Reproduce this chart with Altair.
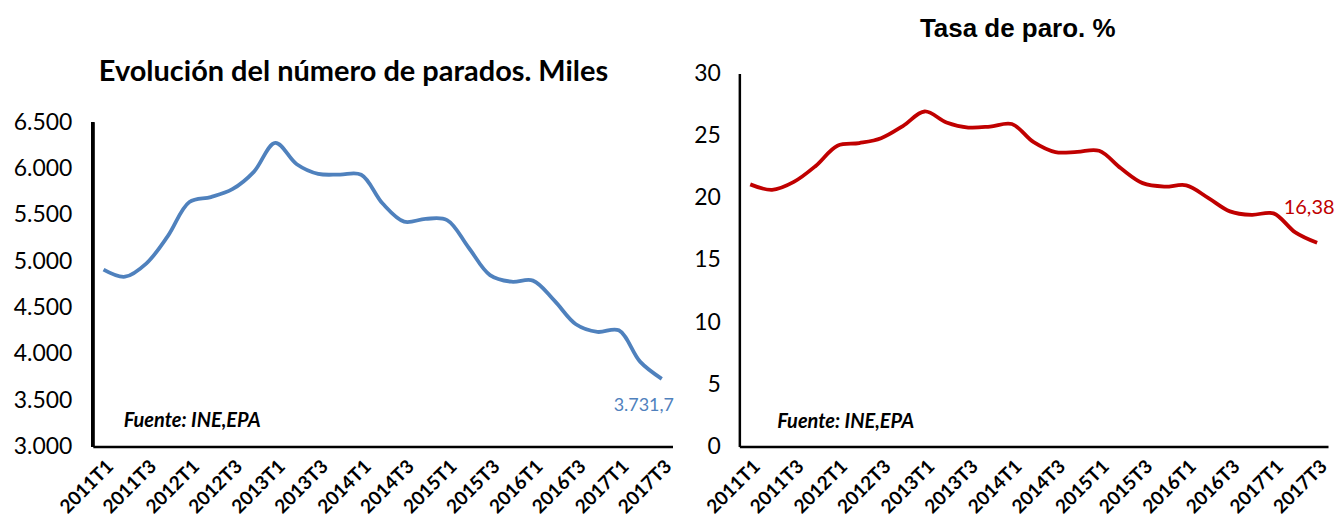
import altair as alt
import pandas as pd

trimestres = [
    "2011T1", "2011T2", "2011T3", "2011T4",
    "2012T1", "2012T2", "2012T3", "2012T4",
    "2013T1", "2013T2", "2013T3", "2013T4",
    "2014T1", "2014T2", "2014T3", "2014T4",
    "2015T1", "2015T2", "2015T3", "2015T4",
    "2016T1", "2016T2", "2016T3", "2016T4",
    "2017T1", "2017T2", "2017T3",
]
parados = [
    4910.2, 4833.7, 4978.3, 5273.6,
    5639.5, 5693.1, 5778.1, 5965.4,
    6278.2, 6047.3, 5943.4, 5935.6,
    5933.3, 5622.9, 5427.7, 5457.7,
    5444.6, 5149.0, 4850.8, 4779.5,
    4791.4, 4574.7, 4320.8, 4237.8,
    4255.0, 3914.3, 3731.7,
]
tasa = [
    21.08, 20.64, 21.28, 22.56,
    24.19, 24.40, 24.79, 25.77,
    26.94, 26.06, 25.65, 25.73,
    25.93, 24.47, 23.67, 23.70,
    23.78, 22.37, 21.18, 20.90,
    21.00, 20.00, 18.91, 18.63,
    18.75, 17.22, 16.38,
]
ticks_x = trimestres[::2]
ticks_parados = [3000, 3500, 4000, 4500, 5000, 5500, 6000, 6500]
ticks_tasa = [0, 5, 10, 15, 20, 25, 30]

titulo_izq = "Evolución del número de parados.  Miles"
titulo_der = "Tasa de paro. %"
fuente = "Fuente: INE,EPA"

BLUE = "#4F81BD"
RED = "#C00000"
FONT = "Lato"
H = 374
WL = 581
WR = 590

df_l = pd.DataFrame({"trimestre": trimestres, "parados": parados})
df_r = pd.DataFrame({"trimestre": trimestres, "tasa": tasa})

def x_enc():
    return alt.X(
        "trimestre:O", sort=trimestres, title=None,
        scale=alt.Scale(type="point", padding=0.5),
        axis=alt.Axis(values=ticks_x, labelAngle=-45, labelFont=FONT,
                      labelFontSize=19, labelFontWeight="bold", labelColor="black",
                      ticks=False, domainColor="black", domainWidth=2.5,
                      labelPadding=10, grid=False),
    )

# ---------- left panel ----------
base_l = alt.Chart(df_l)
line_l = base_l.mark_line(interpolate="catmull-rom", color=BLUE, strokeWidth=3.8).encode(
    x=x_enc(),
    y=alt.Y("parados:Q", title=None,
            scale=alt.Scale(domain=[3000, 7027.6], nice=False, zero=False),
            axis=alt.Axis(values=ticks_parados, domain=False, ticks=False, grid=False,
                          labelFont=FONT, labelFontSize=23, labelColor="black",
                          labelPadding=21,
                          labelExpr="replace(format(datum.value, ',.0f'), ',', '.')")),
)
axis_l = alt.Chart(df_l).mark_rule(color="black", strokeWidth=2.5).encode(
    x=alt.value(0), y=alt.datum(3000), y2=alt.datum(6500)
)
last_l = base_l.transform_filter(alt.datum.trimestre == trimestres[-1]).transform_calculate(
    etiqueta="replace(replace(replace(format(datum.parados, ',.1f'), ',', '#'), '.', ','), '#', '.')"
).mark_text(color=BLUE, font=FONT, fontSize=18, dx=-18, dy=27).encode(
    x=alt.X("trimestre:O", sort=trimestres), y="parados:Q", text="etiqueta:N"
)
tit_l = alt.Chart(pd.DataFrame({"t": [titulo_izq]})).mark_text(
    font=FONT, fontSize=29, fontWeight="bold", align="left", baseline="middle", color="black"
).encode(text="t:N", x=alt.value(6), y=alt.value(-1))
src_l = alt.Chart(pd.DataFrame({"t": [fuente]})).mark_text(
    font=FONT, fontSize=20, fontWeight="bold", fontStyle="italic", align="left",
    baseline="middle", color="black"
).encode(text="t:N", x=alt.value(31), y=alt.value(348))

left = alt.layer(axis_l, line_l, last_l, tit_l, src_l).properties(width=WL, height=H)

# ---------- right panel ----------
base_r = alt.Chart(df_r)
line_r = base_r.mark_line(interpolate="catmull-rom", color=RED, strokeWidth=3.8).encode(
    x=x_enc(),
    y=alt.Y("tasa:Q", title=None,
            scale=alt.Scale(domain=[0, 30], nice=False),
            axis=alt.Axis(values=ticks_tasa, domain=True, domainColor="black",
                          domainWidth=2.5, ticks=False, grid=False,
                          labelFont=FONT, labelFontSize=23, labelColor="black",
                          labelPadding=19)),
)
last_r = base_r.transform_filter(alt.datum.trimestre == trimestres[-1]).transform_calculate(
    etiqueta="replace(format(datum.tasa, '.2f'), '.', ',')"
).mark_text(color=RED, font=FONT, fontSize=20, dx=-8, dy=-35).encode(
    x=alt.X("trimestre:O", sort=trimestres), y="tasa:Q", text="etiqueta:N"
)
tit_r = alt.Chart(pd.DataFrame({"t": [titulo_der]})).mark_text(
    font="Liberation Sans", fontSize=26, fontWeight="bold", align="center",
    baseline="middle", color="black"
).encode(text="t:N", x=alt.value(279), y=alt.value(-45))
src_r = alt.Chart(pd.DataFrame({"t": [fuente]})).mark_text(
    font=FONT, fontSize=20, fontWeight="bold", fontStyle="italic", align="left",
    baseline="middle", color="black"
).encode(text="t:N", x=alt.value(38), y=alt.value(349))

right = alt.layer(line_r, last_r, tit_r, src_r).properties(width=WR, height=H)

chart = alt.hconcat(left, right, spacing=67, bounds="flush").properties(
    padding={"left": 5, "top": 7, "right": 0, "bottom": 0}
).configure_view(stroke=None)

chart.save("out.html", embed_options={"renderer": "svg", "actions": False})
